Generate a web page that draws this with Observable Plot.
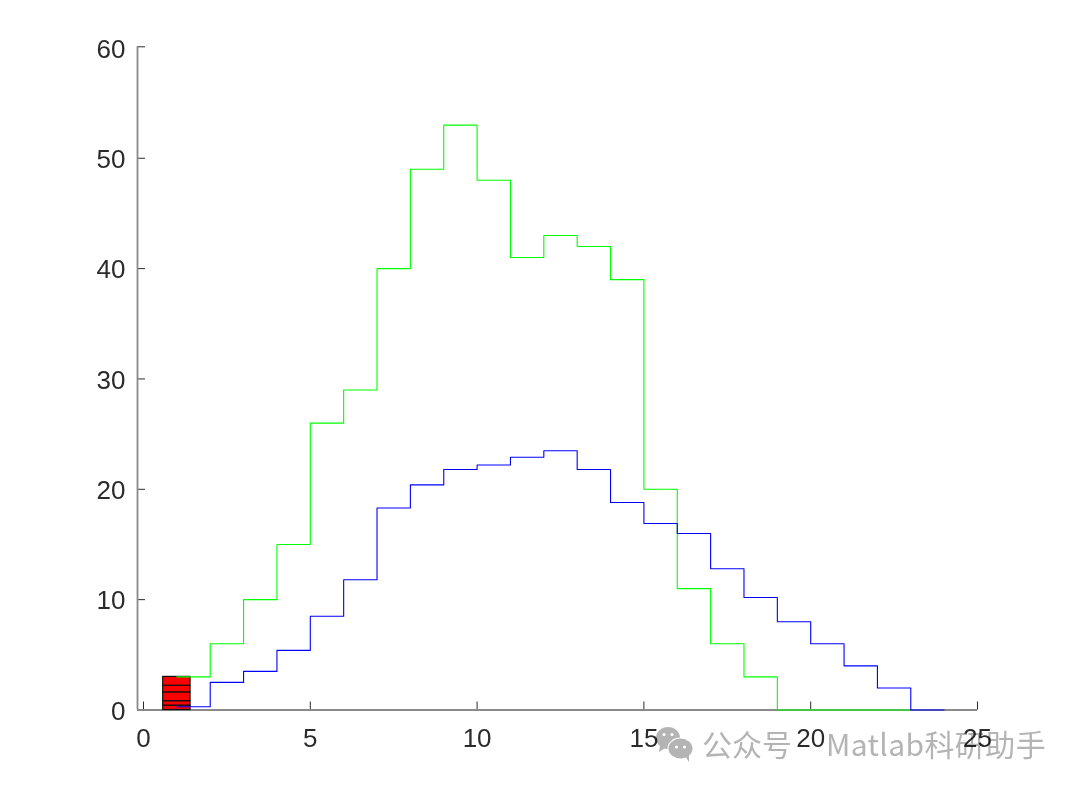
<!DOCTYPE html>
<html>
<head>
<meta charset="utf-8">
<script src="https://cdn.jsdelivr.net/npm/d3@7"></script>
<script src="https://cdn.jsdelivr.net/npm/@observablehq/plot@0.6"></script>
<style>
html,body{margin:0;padding:0;background:#fff;}
#wrap{position:relative;width:1080px;height:788px;overflow:hidden;}
#wrap svg.plot{display:block;}
.wm{position:absolute;color:#b4b4b4;font-family:"Noto Sans CJK SC","Noto Sans",sans-serif;font-size:30px;line-height:34px;white-space:nowrap;mix-blend-mode:multiply;}
</style>
</head>
<body>
<div id="wrap"></div>
<script>
const greenEdges = [1,2,3,4,5,6,7,8,9,10,11,12,13,14,15,16,17,18,19,20,21,22,23];
const greenValues = [3,6,10,15,26,29,40,49,53,48,41,43,42,39,20,11,6,3,0,0,0,0,0];
const blueEdges = [1,2,3,4,5,6,7,8,9,10,11,12,13,14,15,16,17,18,19,20,21,22,23,24];
const blueValues = [0.3,2.5,3.5,5.4,8.5,11.8,18.3,20.4,21.8,22.2,22.9,23.5,21.8,18.8,16.9,16,12.8,10.2,8,6,4,2,0,0];
const redTiers = [0.4,0.8,1.6,2.2,3];
const redLeft = 0.59, redRight = 1.41;
const xTicks = [0,5,10,15,20,25];
const yTicks = [0,10,20,30,40,50,60];
const yTop = 60.1, xLeft = -0.18;
const yTickMarks = [0,10,20,30,40,50,yTop];

const green = greenEdges.map((x,i)=>({x,y:greenValues[i]}));
const blue = blueEdges.map((x,i)=>({x,y:blueValues[i]}));
const red = redTiers.map((t,i)=>({y1:i?redTiers[i-1]:0,y2:t}));

const axisLine = "#8a8a8a", ink = "#2b2b2b";
const chart = Plot.plot({
  width:1080, height:788,
  marginLeft:137, marginRight:103, marginTop:46.3, marginBottom:78.5,
  style:{background:"#fff", fontFamily:"'Liberation Sans',Arial,sans-serif", fontSize:"26px"},
  x:{domain:[xLeft,25], label:null},
  y:{domain:[0,yTop], label:null},
  marks:[
    Plot.axisX(xTicks,{anchor:"bottom", tickSize:-8, tickPadding:27, stroke:ink, strokeWidth:1, fill:ink, fontSize:26, tickFormat:d=>String(d), label:null}),
    Plot.axisY(yTicks,{anchor:"left", tickSize:0, tickPadding:12, dy:1.5, fill:ink, fontSize:26, tickFormat:d=>String(d), label:null}),
    Plot.tickY(yTickMarks,{y:d=>d, insetRight:832, stroke:ink, strokeWidth:1}),
    Plot.ruleY([0],{stroke:axisLine, strokeWidth:1.8}),
    Plot.ruleX([xLeft],{stroke:axisLine, strokeWidth:1.8}),
    Plot.rect(red,{x1:()=>redLeft, x2:()=>redRight, y1:"y1", y2:"y2", fill:"#ff0000", stroke:"#111", strokeWidth:1.2}),
    Plot.line(green,{x:"x", y:"y", curve:"step-after", stroke:"#00ff00", strokeWidth:1.1}),
    Plot.line(blue,{x:"x", y:"y", curve:"step-after", stroke:"#0000ff", strokeWidth:1.1})
  ]
});
const wrap = document.getElementById("wrap");
wrap.appendChild(chart);

// watermark overlay
wrap.insertAdjacentHTML("beforeend", `
<svg style="position:absolute;left:650px;top:720px;mix-blend-mode:multiply" width="50" height="46" viewBox="0 0 50 46">
  <ellipse cx="18" cy="18" rx="12" ry="11" fill="#b4b4b4"/>
  <path d="M10 25 L9 32 L17 27 Z" fill="#b4b4b4"/>
  <circle cx="14" cy="14.5" r="1.6" fill="#fff"/><circle cx="22" cy="14.5" r="1.6" fill="#fff"/>
  <ellipse cx="30.5" cy="28.5" rx="13" ry="11" fill="#fff"/>
  <ellipse cx="30.5" cy="28.5" rx="12" ry="10" fill="#b4b4b4"/>
  <path d="M35 36 L39 42 L39 33 Z" fill="#b4b4b4"/>
  <circle cx="26.5" cy="27" r="1.5" fill="#fff"/><circle cx="34.5" cy="27" r="1.5" fill="#fff"/>
</svg>
<div class="wm" style="left:702px;top:726px;">公众号</div>
<div class="wm" style="left:826px;top:726px;letter-spacing:0.4px;">Matlab科研助手</div>`);
</script>
</body>
</html>
